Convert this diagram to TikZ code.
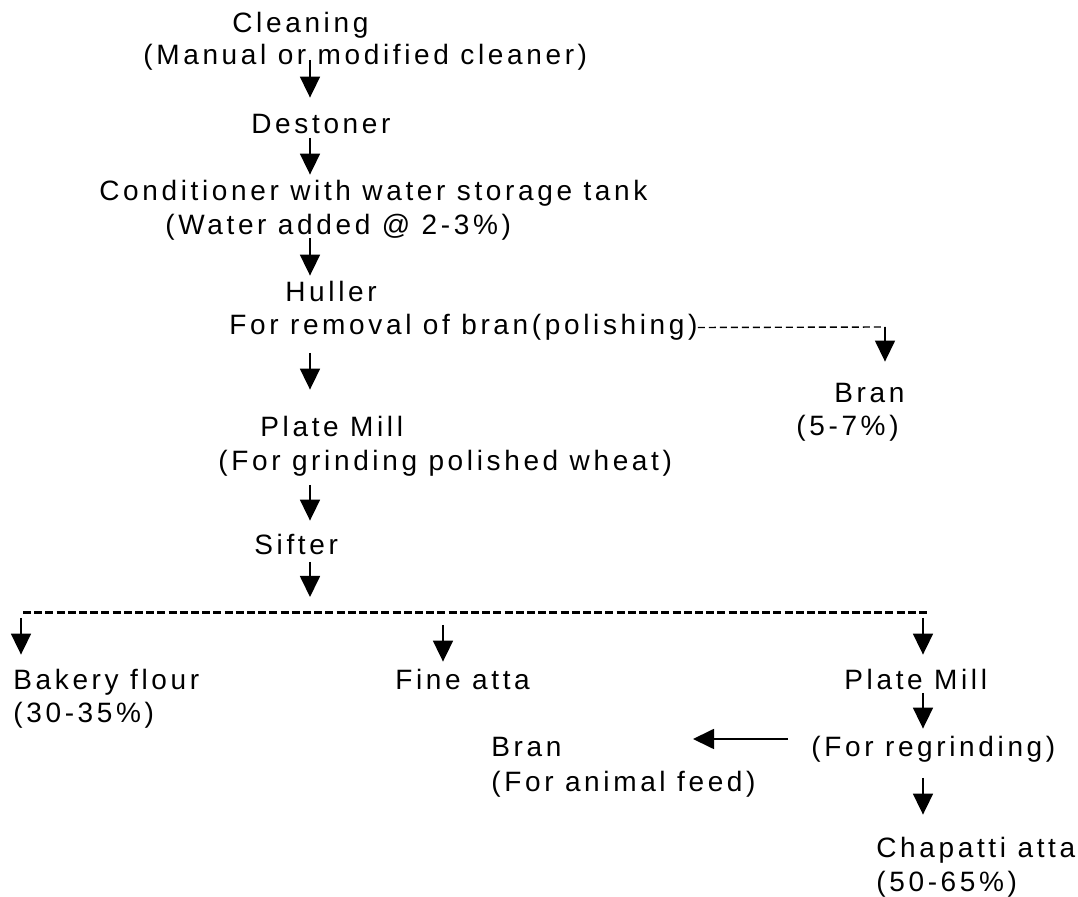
\documentclass[tikz,border=0pt]{standalone}
\usepackage{fontspec}
\setmainfont{Liberation Sans}[LetterSpace=13]
\usetikzlibrary{arrows.meta}

\tikzset{
  lbl/.style={inner sep=0, anchor=base west, text height=10.5pt, text depth=3pt, font=\fontsize{14}{16}\selectfont},
  arr/.style={line width=0.9pt, -{Triangle[length=10.5pt,width=10pt]}},
  thindash/.style={line width=0.7pt, dash pattern=on 3.5pt off 2pt},
  busdash/.style={line width=1.5pt, dash pattern=on 4pt off 1.6pt}
}

\begin{document}
\begin{tikzpicture}[x=0.5pt,y=-0.5pt]
\useasboundingbox (0,0) rectangle (1078,897);

% main column
\node[lbl] (clean) at (232,33) {Cleaning};
\node[lbl] (manual) at (143,65) {(Manual or modified cleaner)};
\node[lbl] (destoner) at (251,134) {Destoner};
\node[lbl] (cond) at (99,201) {Conditioner with water storage tank};
\node[lbl] (water) at (165,235) {(Water added @ 2-3\%)};
\node[lbl] (huller) at (285,302) {Huller};
\node[lbl] (removal) at (229,335) {For removal of bran(polishing)};
\node[lbl] (plate) at (260,437) {Plate Mill};
\node[lbl] (grind) at (218,471) {(For grinding polished wheat)};
\node[lbl] (sifter) at (254,555) {Sifter};

% side branch
\node[lbl] (bran) at (834,403) {Bran};
\node[lbl] (branpct) at (796,436) {(5-7\%)};

% products
\node[lbl] (bakery) at (13,690) {Bakery flour};
\node[lbl] (bakerypct) at (13,723) {(30-35\%)};
\node[lbl] (fine) at (395,690) {Fine atta};
\node[lbl] (replate) at (844,690) {Plate Mill};
\node[lbl] (regrind) at (811,757) {(For regrinding)};
\node[lbl] (feedbran) at (491,757) {Bran};
\node[lbl] (feed) at (491,792) {(For animal feed)};
\node[lbl] (chapatti) at (876,858) {Chapatti atta};
\node[lbl] (chapattipct) at (876,892) {(50-65\%)};

\coordinate (ax) at (310,0);
\coordinate (brk) at (885,327);
\coordinate (bus) at (310,613);
\coordinate (busL) at (23,613);
\coordinate (busR) at (928,613);
\coordinate (dropL) at (21,618);
\coordinate (dropM) at (443,625);
\coordinate (dropR) at (923,618);
\coordinate (ax2) at (923,0);
\coordinate (toFeed) at (693,739);

\draw[arr, shorten <=-2.5pt, shorten >=7.5pt] (manual.base -| ax) -- (destoner.north -| ax);
\draw[arr, shorten <=2pt, shorten >=2.5pt] (destoner.base -| ax) -- (cond.north -| ax);
\draw[arr, shorten <=1.5pt, shorten >=2.5pt] (water.base -| ax) -- (huller.north -| ax);
\draw[arr, shorten <=9pt, shorten >=13pt] (removal.base -| ax) -- (plate.north -| ax);
\draw[arr, shorten <=7pt, shorten >=6.5pt] (grind.base -| ax) -- (sifter.north -| ax);
\draw[arr, shorten <=3.5pt, shorten >=8pt] (sifter.base -| ax) -- (bus);

\draw[thindash] (removal.east) -- (brk);
\draw[arr, line width=0.7pt, shorten >=10pt] (brk) -- (bran.north -| brk);

\draw[busdash] (busL) -- (busR);
\draw[arr, shorten >=7pt] (dropL) -- (bakery.north -| dropL);
\draw[arr, shorten >=3.5pt] (dropM) -- (fine.north -| dropM);
\draw[arr, shorten >=7pt] (dropR) -- (replate.north -| dropR);

\draw[arr, shorten <=1.5pt, shorten >=3.5pt] (replate.base -| ax2) -- (regrind.north -| ax2);
\draw[arr, shorten <=11.5pt] (regrind.west |- toFeed) -- (toFeed);
\draw[arr, shorten <=10.5pt, shorten >=11pt] (regrind.base -| ax2) -- (chapatti.north -| ax2);
\end{tikzpicture}
\end{document}
